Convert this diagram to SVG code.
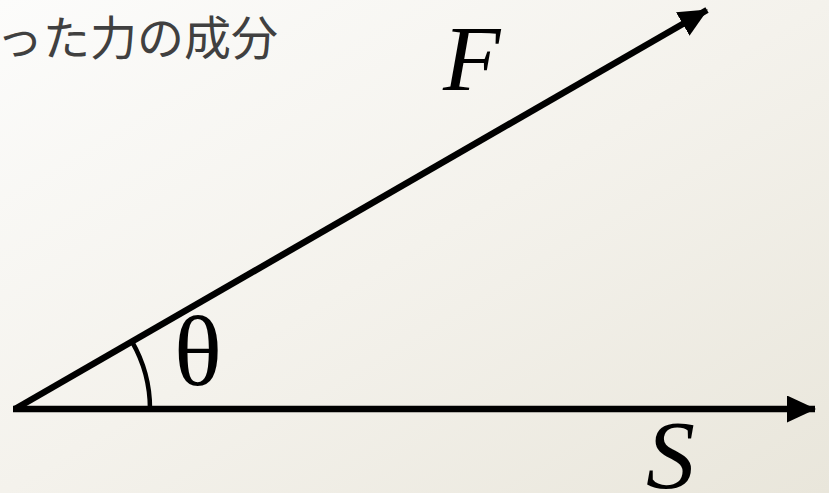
<svg xmlns="http://www.w3.org/2000/svg" width="829" height="493" viewBox="0 0 829 493">
<defs>
<linearGradient id="bg" x1="0" y1="0" x2="1" y2="1">
<stop offset="0" stop-color="#fcfcfb"/>
<stop offset="0.5" stop-color="#f4f2ec"/>
<stop offset="1" stop-color="#e9e6db"/>
</linearGradient>
<marker id="ah" markerUnits="userSpaceOnUse" markerWidth="32" markerHeight="30" refX="28" refY="13.5" orient="auto">
<path d="M0,0 L29,13.5 L0,27 Z" fill="#000"/>
</marker>
<style>
.vec{stroke:#000;stroke-width:6.5;fill:none}
.arc{stroke:#000;stroke-width:4.5;fill:none}
.math{font-family:"Liberation Serif",serif;fill:#000}
.title{font-family:"Noto Sans CJK JP","Noto Sans",sans-serif;fill:#404040;font-size:47px}
</style>
</defs>
<rect width="829" height="493" fill="url(#bg)"/>
<g id="title"><text class="title" x="278" y="55" text-anchor="end">った力の成分</text></g>
<g id="connectors">
<line class="vec" x1="13" y1="409" x2="815" y2="409" marker-end="url(#ah)"/>
<line class="vec" x1="15" y1="409" x2="707" y2="10" marker-end="url(#ah)"/>
<path class="arc" d="M150,409 A135,135 0 0 0 131.9,341.5"/>
</g>
<g id="F"><text class="math" x="443" y="90" font-size="94" font-style="italic">F</text></g>
<g id="theta"><text class="math" x="174" y="385" font-size="100">θ</text></g>
<g id="S"><text class="math" x="646" y="488" font-size="98" font-style="italic">S</text></g>
</svg>
